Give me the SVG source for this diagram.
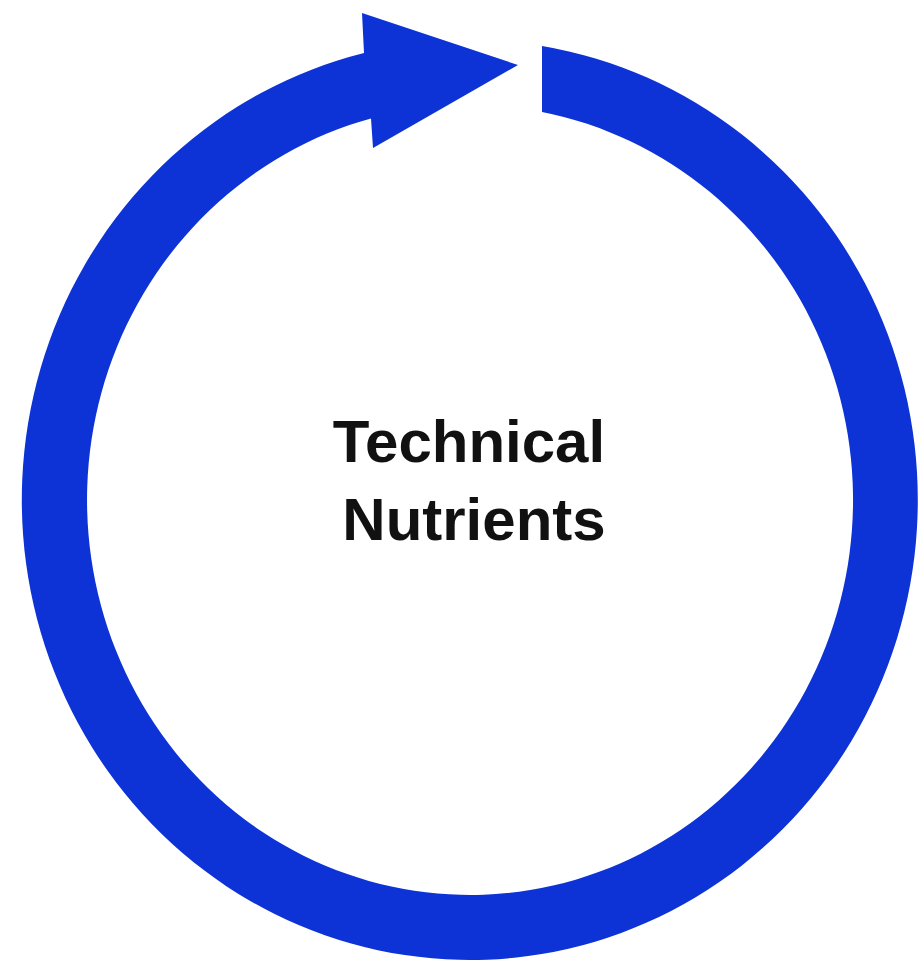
<svg xmlns="http://www.w3.org/2000/svg" width="921" height="966" viewBox="0 0 921 966">
<style>
.ring{fill:#0d33d6;}
.lbl{font-family:"Liberation Sans",Arial,sans-serif;font-weight:bold;font-size:60px;fill:#111;text-anchor:middle;}
</style>
<rect width="921" height="966" fill="#ffffff"/>
<g id="connectors">
<path class="ring" d="M542,46 A448,460 0 1 1 364,53 L362,13 L518,65 L373,148 L371,118.4 A383,395 0 1 0 542,112 Z"/>
</g>
<g id="node-technical-nutrients">
<text class="lbl" x="469" y="462">Technical</text>
<text class="lbl" x="474" y="540">Nutrients</text>
</g>
</svg>
